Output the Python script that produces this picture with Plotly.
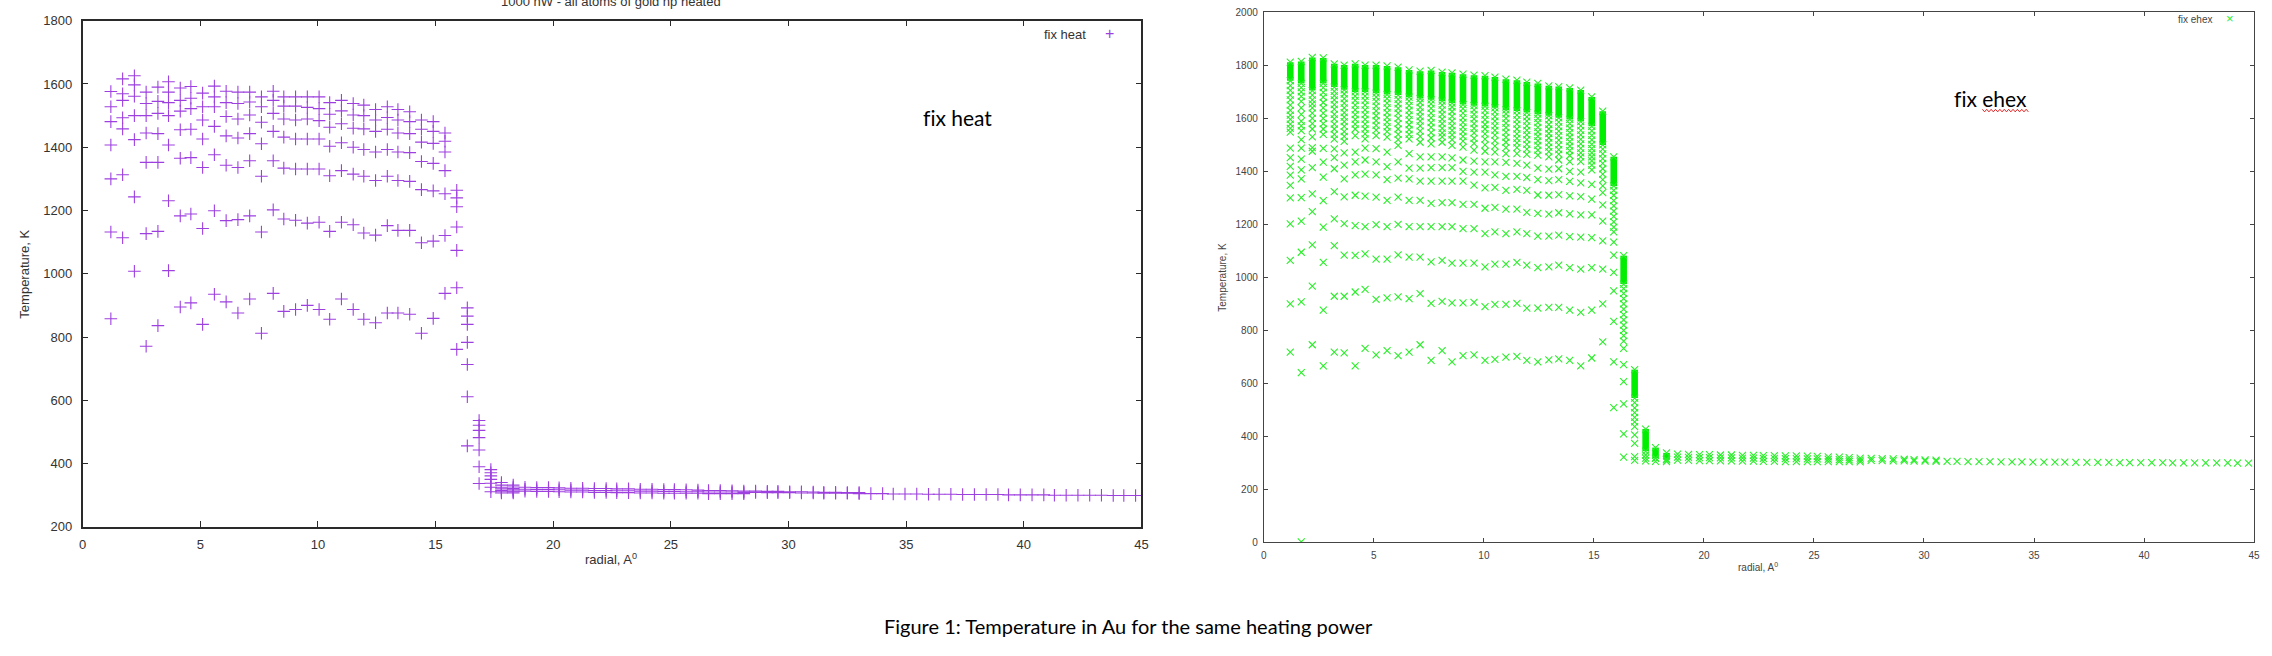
import plotly.graph_objects as go

W, H = 2272, 656

# radial positions of the shells (Angstrom), shared by both panels
radial = [
    1.2, 1.7, 2.2, 2.7, 3.2, 3.65, 4.15, 4.6, 5.1, 5.6,
    6.1, 6.6, 7.1, 7.6, 8.1, 8.55, 9.05, 9.55, 10.05, 10.5,
    11.0, 11.5, 11.95, 12.45, 12.95, 13.4, 13.9, 14.4, 14.9, 15.4,
    15.9, 16.35, 16.85, 17.35, 17.8, 18.3, 18.8, 19.3, 19.8, 20.25,
    20.75, 21.25, 21.75, 22.25, 22.7, 23.2, 23.7, 24.2, 24.7, 25.15,
    25.65, 26.15, 26.6, 27.1, 27.6, 28.1, 28.6, 29.1, 29.55, 30.05,
    30.55, 31.05, 31.5, 32.0, 32.5, 33.0, 33.5, 34.0, 34.45, 34.95,
    35.45, 35.95, 36.4, 36.9, 37.4, 37.9, 38.4, 38.9, 39.35, 39.85,
    40.35, 40.85, 41.3, 41.8, 42.3, 42.8, 43.3, 43.8, 44.25, 44.75,
]

# left panel "fix heat": temperatures (K) at each radial position
heat_T = [
    [1576, 1528, 1481, 1407, 1300, 1132, 858],
    [1616, 1569, 1548, 1493, 1458, 1313, 1114],
    [1626, 1597, 1561, 1500, 1424, 1243, 1008],
    [1574, 1538, 1500, 1445, 1352, 1127, 771],
    [1590, 1545, 1507, 1443, 1352, 1134, 836],
    [1607, 1574, 1541, 1500, 1407, 1231, 1010],
    [1587, 1548, 1514, 1455, 1365, 1183, 895],
    [1592, 1555, 1522, 1457, 1367, 1189, 908],
    [1571, 1528, 1486, 1426, 1336, 1143, 840],
    [1593, 1559, 1528, 1466, 1376, 1199, 935],
    [1577, 1541, 1497, 1436, 1343, 1168, 911],
    [1574, 1538, 1489, 1429, 1336, 1171, 876],
    [1574, 1543, 1502, 1443, 1357, 1183, 920],
    [1559, 1528, 1479, 1411, 1308, 1132, 812],
    [1577, 1548, 1507, 1450, 1357, 1202, 938],
    [1559, 1530, 1489, 1432, 1334, 1173, 881],
    [1559, 1530, 1486, 1426, 1331, 1169, 887],
    [1559, 1526, 1489, 1426, 1331, 1160, 900],
    [1559, 1522, 1484, 1426, 1331, 1163, 887],
    [1541, 1504, 1463, 1403, 1310, 1134, 856],
    [1548, 1515, 1474, 1414, 1326, 1163, 920],
    [1538, 1502, 1460, 1400, 1315, 1155, 887],
    [1533, 1500, 1458, 1393, 1308, 1129, 856],
    [1519, 1486, 1450, 1385, 1295, 1122, 845],
    [1528, 1494, 1457, 1393, 1308, 1152, 876],
    [1519, 1486, 1445, 1385, 1295, 1137, 876],
    [1512, 1481, 1443, 1383, 1292, 1137, 872],
    [1486, 1457, 1416, 1355, 1266, 1098, 812],
    [1481, 1450, 1412, 1349, 1262, 1103, 859],
    [1445, 1419, 1385, 1326, 1253, 1121, 938],
    [1264, 1240, 1212, 1148, 1074, 956, 761],
    [892, 866, 840, 783, 713, 611, 456],
    [536, 521, 505, 482, 443, 390, 337],
    [381, 371, 361, 350, 338, 325, 311],
    [340, 332, 325, 320, 315, 311, 307],
    [332, 326, 321, 317, 313, 310, 307],
    [325, 319, 313], [324, 318, 312], [324, 318, 312], [323, 317, 311],
    [322, 316, 310], [322, 316, 310], [321, 315, 309], [321, 315, 309],
    [320, 314, 308], [320, 314, 308], [319, 313, 307], [319, 313, 307],
    [318, 312, 306], [318, 312, 306], [317, 311, 306], [316, 311, 306],
    [315, 310, 305], [315, 310, 305], [314, 310, 305], [313, 309, 305],
    [313, 309], [312, 308], [312, 308], [311, 308], [311, 307], [310, 307],
    [309, 306], [309, 306], [308, 306], [308, 305],
    [305], [305], [304], [304], [304], [303], [303], [303], [302], [302],
    [302], [302], [301], [301], [301], [301], [300], [300], [300], [300],
    [300], [299], [299], [299],
]

# right panel "fix ehex": solidly overlapped range of markers per shell (K)
ehex_solid_top = [
    1812, 1815, 1830, 1828, 1806, 1801, 1806, 1801, 1801, 1798,
    1793, 1783, 1778, 1781, 1775, 1772, 1767, 1763, 1761, 1756,
    1748, 1744, 1737, 1732, 1723, 1720, 1715, 1707, 1681, 1627,
    1455, 1082, 652, 428, 358, 338,
]
ehex_solid_bottom = [
    1742, 1732, 1705, 1732, 1718, 1708, 1700, 1700, 1695, 1690,
    1688, 1680, 1675, 1670, 1665, 1658, 1652, 1648, 1645, 1640,
    1632, 1628, 1622, 1616, 1610, 1602, 1596, 1588, 1570, 1500,
    1345, 975, 545, 345, 318, 312,
]

# right panel "fix ehex": separately visible markers per shell (K)
ehex_T = [
    [1724, 1706, 1688, 1670, 1650, 1630, 1612, 1596, 1578, 1562, 1548, 1488, 1452, 1419, 1386, 1347, 1300, 1202, 1064, 900, 718],
    [1716, 1700, 1683, 1664, 1640, 1615, 1590, 1572, 1554, 1520, 1488, 1446, 1406, 1372, 1301, 1212, 1095, 908, 641, 2],
    [1688, 1670, 1655, 1640, 1620, 1600, 1580, 1560, 1530, 1490, 1476, 1414, 1315, 1248, 1123, 967, 746],
    [1716, 1698, 1680, 1660, 1640, 1620, 1600, 1580, 1560, 1540, 1487, 1435, 1378, 1290, 1190, 1057, 877, 666],
    [1702, 1686, 1670, 1652, 1635, 1615, 1598, 1578, 1560, 1540, 1522, 1485, 1452, 1410, 1324, 1221, 1120, 929, 718],
    [1692, 1675, 1658, 1640, 1622, 1605, 1588, 1570, 1550, 1532, 1513, 1470, 1424, 1372, 1304, 1203, 1084, 929, 715],
    [1684, 1668, 1650, 1632, 1614, 1596, 1578, 1560, 1535, 1473, 1436, 1387, 1310, 1195, 1083, 945, 666],
    [1684, 1668, 1650, 1632, 1614, 1596, 1578, 1560, 1542, 1523, 1488, 1443, 1390, 1307, 1192, 1089, 955, 732],
    [1680, 1664, 1646, 1628, 1610, 1592, 1574, 1556, 1535, 1486, 1436, 1387, 1303, 1199, 1069, 917, 708],
    [1675, 1658, 1640, 1622, 1604, 1586, 1568, 1550, 1529, 1473, 1418, 1369, 1291, 1192, 1069, 923, 724],
    [1672, 1655, 1638, 1620, 1600, 1580, 1560, 1540, 1520, 1498, 1436, 1375, 1303, 1200, 1085, 927, 705],
    [1665, 1648, 1630, 1612, 1594, 1576, 1558, 1540, 1523, 1467, 1412, 1372, 1291, 1192, 1077, 920, 718],
    [1660, 1642, 1625, 1607, 1590, 1572, 1552, 1532, 1510, 1455, 1412, 1363, 1291, 1192, 1077, 939, 746],
    [1655, 1638, 1620, 1602, 1584, 1566, 1546, 1526, 1504, 1455, 1414, 1363, 1279, 1192, 1059, 902, 687],
    [1650, 1632, 1615, 1597, 1580, 1562, 1545, 1530, 1510, 1455, 1414, 1363, 1282, 1192, 1064, 910, 724],
    [1643, 1626, 1608, 1590, 1572, 1555, 1538, 1520, 1498, 1451, 1414, 1363, 1282, 1192, 1054, 904, 681],
    [1637, 1620, 1602, 1585, 1567, 1550, 1532, 1514, 1492, 1443, 1400, 1363, 1276, 1184, 1054, 904, 705],
    [1632, 1615, 1598, 1580, 1562, 1545, 1525, 1506, 1480, 1439, 1397, 1348, 1276, 1184, 1054, 906, 708],
    [1630, 1612, 1595, 1577, 1560, 1542, 1522, 1500, 1476, 1436, 1397, 1338, 1261, 1165, 1040, 890, 687],
    [1625, 1607, 1590, 1572, 1555, 1537, 1516, 1495, 1473, 1436, 1387, 1340, 1264, 1172, 1050, 898, 691],
    [1617, 1600, 1582, 1565, 1547, 1528, 1510, 1490, 1467, 1434, 1381, 1328, 1258, 1165, 1050, 898, 699],
    [1612, 1595, 1578, 1560, 1542, 1525, 1508, 1490, 1467, 1430, 1381, 1332, 1258, 1172, 1057, 902, 702],
    [1606, 1590, 1572, 1555, 1538, 1520, 1502, 1484, 1464, 1424, 1377, 1328, 1245, 1165, 1046, 884, 687],
    [1600, 1584, 1566, 1549, 1532, 1515, 1498, 1480, 1461, 1412, 1369, 1311, 1242, 1156, 1037, 884, 681],
    [1594, 1577, 1560, 1543, 1526, 1509, 1492, 1475, 1455, 1409, 1365, 1310, 1239, 1156, 1040, 887, 689],
    [1586, 1569, 1552, 1535, 1518, 1500, 1482, 1465, 1443, 1410, 1369, 1312, 1244, 1160, 1046, 887, 693],
    [1580, 1563, 1546, 1529, 1512, 1495, 1478, 1460, 1437, 1400, 1362, 1308, 1240, 1154, 1037, 877, 687],
    [1572, 1555, 1538, 1521, 1504, 1487, 1470, 1455, 1437, 1397, 1357, 1305, 1236, 1152, 1031, 868, 666],
    [1553, 1536, 1519, 1502, 1486, 1470, 1455, 1440, 1424, 1406, 1351, 1295, 1236, 1150, 1037, 877, 696],
    [1484, 1466, 1448, 1430, 1410, 1390, 1369, 1345, 1320, 1274, 1212, 1138, 1031, 900, 757],
    [1328, 1310, 1290, 1270, 1250, 1230, 1210, 1190, 1172, 1133, 1084, 1019, 949, 834, 681, 509],
    [958, 940, 920, 900, 880, 860, 840, 820, 800, 780, 760, 732, 671, 607, 523, 410, 322],
    [528, 508, 490, 472, 455, 437, 406, 374, 324, 310],
    [330, 318, 308],
    [318, 306],
    [314, 305],
    [333, 322, 311], [332, 321, 310], [331, 320, 309], [331, 320, 309],
    [330, 319, 308], [330, 319, 308], [329, 318, 307], [329, 318, 307],
    [328, 317, 306], [328, 317, 306], [327, 316, 305], [327, 316, 305],
    [326, 315, 305], [325, 315, 305], [323, 314, 305], [322, 313, 305],
    [320, 312, 305], [318, 311, 304],
    [317, 310], [316, 309], [315, 308], [314, 308], [313, 307], [312, 307], [311, 306],
    [306], [306], [305], [305], [305], [304], [304], [304], [303], [303],
    [303], [303], [302], [302], [302], [302], [301], [301], [301], [301],
    [301], [300], [300], [300], [300], [300], [300], [299], [299],
]

heat_ticks_y = list(range(200, 1801, 200))
ehex_ticks_y = list(range(0, 2001, 200))
radial_ticks = list(range(0, 46, 5))

HEAT = "#9e3fe0"
EHEX = "#2aee2a"
EHEX_FILL = "#00ee00"


def flatten(cols):
    xs, ys = [], []
    for r, col in zip(radial, cols):
        xs += [r] * len(col)
        ys += col
    return xs, ys


def fx(p):
    return p / W


def fy(p):
    return 1 - p / H


fig = go.Figure()

# ── left: fix heat ──
hx, hy = flatten(heat_T)
fig.add_trace(go.Scatter(
    x=hx, y=hy, mode="markers", name="fix heat", showlegend=False,
    marker=dict(symbol="cross-thin", size=9, color=HEAT,
                line=dict(color=HEAT, width=1.1)),
    xaxis="x", yaxis="y",
))

# ── right: fix ehex ──
n = len(ehex_solid_top)
fig.add_trace(go.Bar(
    x=radial[:n],
    y=[t - b for t, b in zip(ehex_solid_top, ehex_solid_bottom)],
    base=ehex_solid_bottom, width=0.3, showlegend=False,
    marker=dict(color=EHEX_FILL, line=dict(width=0)),
    xaxis="x2", yaxis="y2",
))
ex, ey = flatten(ehex_T)
ex += radial[:n] * 2
ey += ehex_solid_top + ehex_solid_bottom
fig.add_trace(go.Scatter(
    x=ex, y=ey, mode="markers", name="fix ehex", showlegend=False,
    marker=dict(symbol="x-thin", size=7, color=EHEX,
                line=dict(color=EHEX, width=1.1)),
    xaxis="x2", yaxis="y2",
))

TICK_FONT = "Liberation Sans, Arial, sans-serif"
left_ax = dict(showline=True, linecolor="#2a2a2a", linewidth=1.6, mirror="ticks",
               ticks="inside", ticklen=6, tickwidth=1.2, tickcolor="#2a2a2a",
               showgrid=False, zeroline=False,
               tickfont=dict(family=TICK_FONT, size=13, color="#333"))
right_ax = dict(showline=True, linecolor="#444", linewidth=1.2, mirror="ticks",
                ticks="inside", ticklen=4, tickwidth=1, tickcolor="#444",
                showgrid=False, zeroline=False,
                tickfont=dict(family=TICK_FONT, size=10, color="#444"))

fig.update_layout(
    width=W, height=H,
    margin=dict(l=0, r=0, t=0, b=0),
    paper_bgcolor="white", plot_bgcolor="white",
    barmode="overlay",
    xaxis=dict(left_ax, domain=[fx(79), fx(1143)], range=[0, 45],
               tickvals=radial_ticks, anchor="y", ticklabelstandoff=5),
    yaxis=dict(left_ax, domain=[fy(532), fy(14)], range=[200, 1800],
               tickvals=heat_ticks_y, anchor="x", ticklabelstandoff=6),
    xaxis2=dict(right_ax, domain=[fx(1266), fx(2261)], range=[0, 45],
                tickvals=radial_ticks, anchor="y2", ticklabelstandoff=3),
    yaxis2=dict(right_ax, domain=[fy(548), fy(5.5)], range=[0, 2000],
                tickvals=ehex_ticks_y, anchor="x2", ticklabelstandoff=3),
)


def note(text, x, y, size, color="#333", family=TICK_FONT, xanchor="center", **kw):
    fig.add_annotation(text=text, x=fx(x), y=fy(y), xref="paper", yref="paper",
                       xanchor=xanchor, yanchor="middle", showarrow=False,
                       font=dict(family=family, size=size, color=color), **kw)


# axis titles
note("Temperature, K", 21, 273, 13, textangle=-90)
note("radial, A<sup>0</sup>", 610, 565, 13)
note("Temperature, K", 1225, 277, 10, color="#444", textangle=-90)
note("radial, A<sup>0</sup>", 1763, 573, 10, color="#444")

# plot title, cropped at the top edge of the page as in the source screenshot
note("1000 nW - all atoms of gold np heated", 610, -6, 13)

# gnuplot-style keys (text then symbol)
note("fix heat", 1089, 28, 13, xanchor="right")
note("+", 1111, 27, 16, color=HEAT)
note("fix ehex", 2221, 13, 10, color="#444", xanchor="right")
note("\u00d7", 2237, 12, 13, color=EHEX)

# text boxes pasted over the plots
BODY = "Lato, Open Sans, sans-serif"
note("f\u200cix heat", 958, 113, 21, color="black", family=BODY)
note("f\u200cix ehex", 1996, 94, 21, color="black", family=BODY)

# spell-check squiggle under "ehex"
pts = []
x = 1988.0
k = 0
while x <= 2036:
    pts.append((x, 106 + (1.3 if k % 2 else -1.3)))
    x += 2.2
    k += 1
path = "M " + " L ".join(f"{fx(a):.6f},{fy(b):.6f}" for a, b in pts)
fig.add_shape(type="path", path=path, xref="paper", yref="paper",
              line=dict(color="#e02020", width=1))

# figure caption
note("Figure 1: Temperature in Au for the same heating power", 1130, 633, 20,
     color="black", family=BODY)

fig.write_html("out.html", config={"displayModeBar": False},
               post_script="document.body.style.margin='0';document.body.style.overflow='hidden';")
